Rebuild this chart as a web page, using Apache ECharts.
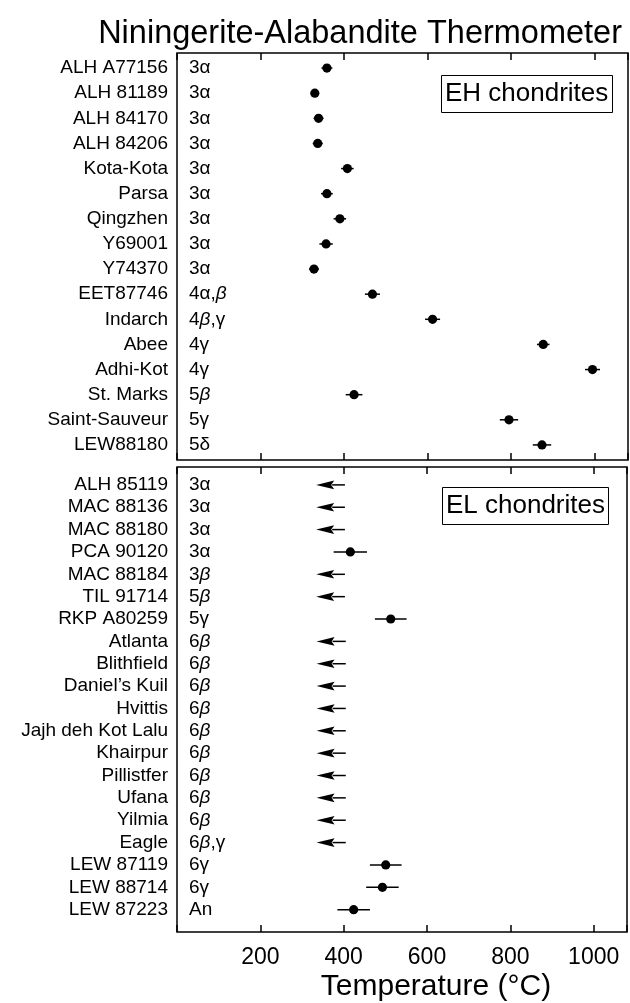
<!DOCTYPE html>
<html>
<head>
<meta charset="utf-8">
<script src="https://cdn.jsdelivr.net/npm/echarts@6/dist/echarts.min.js"></script>
<style>
html, body { margin: 0; padding: 0; background: #fff; }
#container { width: 630px; height: 1003px; }
</style>
</head>
<body>
<div id="container"></div>
<script>
/* EH chondrites (top panel) */
const ehNames = ['ALH A77156', 'ALH 81189', 'ALH 84170', 'ALH 84206', 'Kota-Kota', 'Parsa', 'Qingzhen',
    'Y69001', 'Y74370', 'EET87746', 'Indarch', 'Abee', 'Adhi-Kot', 'St. Marks', 'Saint-Sauveur', 'LEW88180'];
const ehTypes = ['3α', '3α', '3α', '3α', '3α', '3α', '3α', '3α', '3α', '4α,β', '4β,γ', '4γ', '4γ', '5β', '5γ', '5δ'];
const ehTemp = [359, 330, 339, 337, 408, 359, 390, 357, 328, 468, 612, 877, 995, 424, 795, 874];
const ehErr = [13, 8, 12, 12, 15, 14, 15, 16, 12, 18, 18, 15, 18, 20, 22, 22];

/* EL chondrites (bottom panel); null temp = only an upper limit (arrow) */
const elNames = ['ALH 85119', 'MAC 88136', 'MAC 88180', 'PCA 90120', 'MAC 88184', 'TIL 91714', 'RKP A80259',
    'Atlanta', 'Blithfield', 'Daniel’s Kuil', 'Hvittis', 'Jajh deh Kot Lalu', 'Khairpur', 'Pillistfer',
    'Ufana', 'Yilmia', 'Eagle', 'LEW 87119', 'LEW 88714', 'LEW 87223'];
const elTypes = ['3α', '3α', '3α', '3α', '3β', '5β', '5γ', '6β', '6β', '6β', '6β', '6β', '6β', '6β',
    '6β', '6β', '6β,γ', '6γ', '6γ', 'An'];
const elTemp = [null, null, null, 416, null, null, 513, null, null, null, null, null, null, null,
    null, null, null, 501, 493, 424];
const elErr = [0, 0, 0, 40, 0, 0, 38, 0, 0, 0, 0, 0, 0, 0, 0, 0, 0, 38, 39, 39];
const elLimit = [403, 403, 403, null, 403, 403, null, 405, 405, 405, 405, 405, 405, 405, 405, 405, 405, null, null, null];
const elArrowTip = [334, 334, 334, null, 334, 334, null, 335, 335, 335, 335, 335, 335, 335, 335, 335, 335, null, null, null];

const xTicks = [200, 400, 600, 800, 1000];
const xMin = 0, xMax = 1080;

const FONT = 'Liberation Sans';

function typeLabel(v) {
    return v.replace(/β/g, '{i|β}');
}

// row index from a y tick value, or -1 if the tick is between rows
function rowOf(v) {
    const r = Math.round(v);
    return Math.abs(v - r) < 1e-6 ? r : -1;
}

function dotItem(params, api) {
    const c = api.coord([api.value(0), api.value(1)]);
    const lo = api.coord([api.value(0) - api.value(2), api.value(1)]);
    const hi = api.coord([api.value(0) + api.value(2), api.value(1)]);
    return {
        type: 'group',
        children: [
            { type: 'line', shape: { x1: lo[0], y1: c[1], x2: hi[0], y2: c[1] }, style: { stroke: '#000', lineWidth: 1.5 } },
            { type: 'circle', shape: { cx: c[0], cy: c[1], r: 4.6 }, style: { fill: '#000' } }
        ]
    };
}

function arrowItem(params, api) {
    const a = api.coord([api.value(0), api.value(1)]);
    const b = api.coord([api.value(2), api.value(1)]);
    const head = 18;
    return {
        type: 'group',
        children: [
            { type: 'line', shape: { x1: a[0], y1: a[1], x2: b[0] + head - 2, y2: a[1] }, style: { stroke: '#000', lineWidth: 1.5 } },
            { type: 'polygon', shape: { points: [[b[0], b[1]], [b[0] + head, b[1] - 4.3], [b[0] + head - 3, b[1]], [b[0] + head, b[1] + 4.3]] }, style: { fill: '#000' } }
        ]
    };
}

const ehDots = ehTemp.map((t, i) => [t, i, ehErr[i]]);
const elDots = [];
const elArrows = [];
elNames.forEach((n, i) => {
    if (elTemp[i] !== null) elDots.push([elTemp[i], i, elErr[i]]);
    if (elLimit[i] !== null) elArrows.push([elLimit[i], i, elArrowTip[i]]);
});

function xAxisDef(gridIndex, position, withLabels) {
    return {
        type: 'value', gridIndex: gridIndex, position: position,
        min: xMin, max: xMax, interval: 200,
        axisLine: { show: false, onZero: false },
        axisTick: { show: true, inside: true, length: 7, lineStyle: { color: '#000', width: 1.5 } },
        splitLine: { show: false },
        axisLabel: {
            show: withLabels, color: '#000', fontSize: 23, fontFamily: FONT, margin: 14,
            formatter: v => (xTicks.indexOf(v) >= 0 ? String(v) : '')
        }
    };
}

// rows are placed on a value axis so the padding above/below matches the figure
function rowAxis(gridIndex, labels, yMin, yMax, isType) {
    const ax = {
        type: 'value', gridIndex: gridIndex, position: 'left', inverse: true,
        min: yMin, max: yMax, interval: 0.2,
        axisLine: { show: false, onZero: false }, axisTick: { show: false }, splitLine: { show: false },
        axisLabel: {
            color: '#000', fontSize: 19, fontFamily: FONT, margin: 9, showMinLabel: true, showMaxLabel: true,
            formatter: v => {
                const r = rowOf(v);
                if (r < 0 || r >= labels.length) return '';
                return isType ? typeLabel(labels[r]) : labels[r];
            }
        }
    };
    if (isType) {
        ax.axisLabel.inside = true;
        ax.axisLabel.margin = 12;
        ax.axisLabel.rich = { i: { fontStyle: 'italic', fontSize: 19, fontFamily: FONT, color: '#000' } };
    }
    return ax;
}

const dom = document.getElementById('container');
const myChart = echarts.init(dom);
const option = {
    backgroundColor: '#fff',
    animation: false,
    title: [
        {
            text: 'Niningerite-Alabandite Thermometer',
            right: 3, top: 13,
            textStyle: { fontSize: 32.5, fontWeight: 'normal', color: '#000', fontFamily: FONT }
        },
        {
            text: 'EH chondrites', left: 441, top: 75,
            borderColor: '#000', borderWidth: 1, padding: [6, 4, 6, 4],
            textStyle: { fontSize: 26, fontWeight: 'normal', color: '#000', fontFamily: FONT }
        },
        {
            text: 'EL chondrites', left: 442, top: 487,
            borderColor: '#000', borderWidth: 1, padding: [6, 4, 6, 4],
            textStyle: { fontSize: 26, fontWeight: 'normal', color: '#000', fontFamily: FONT }
        }
    ],
    grid: [
        { left: 177, top: 53, width: 451, height: 407, show: true, borderColor: '#000', borderWidth: 1.5, backgroundColor: 'transparent' },
        { left: 177, top: 467, width: 451, height: 465, show: true, borderColor: '#000', borderWidth: 1.5, backgroundColor: 'transparent' }
    ],
    xAxis: [
        xAxisDef(0, 'bottom', false),
        xAxisDef(0, 'top', false),
        xAxisDef(1, 'top', false),
        Object.assign(xAxisDef(1, 'bottom', true), {
            name: 'Temperature (°C)', nameLocation: 'middle', nameGap: 40,
            nameTextStyle: { fontSize: 30, color: '#000', fontFamily: FONT, padding: [0, 0, 0, 68] }
        })
    ],
    yAxis: [
        rowAxis(0, ehNames, -0.6, 15.6, false),
        rowAxis(0, ehTypes, -0.6, 15.6, true),
        rowAxis(1, elNames, -0.8, 20, false),
        rowAxis(1, elTypes, -0.8, 20, true)
    ],
    series: [
        { type: 'custom', xAxisIndex: 0, yAxisIndex: 0, renderItem: dotItem, data: ehDots },
        { type: 'custom', xAxisIndex: 3, yAxisIndex: 2, renderItem: dotItem, data: elDots },
        { type: 'custom', xAxisIndex: 3, yAxisIndex: 2, renderItem: arrowItem, data: elArrows }
    ]
};
myChart.setOption(option, true);
</script>
</body>
</html>
